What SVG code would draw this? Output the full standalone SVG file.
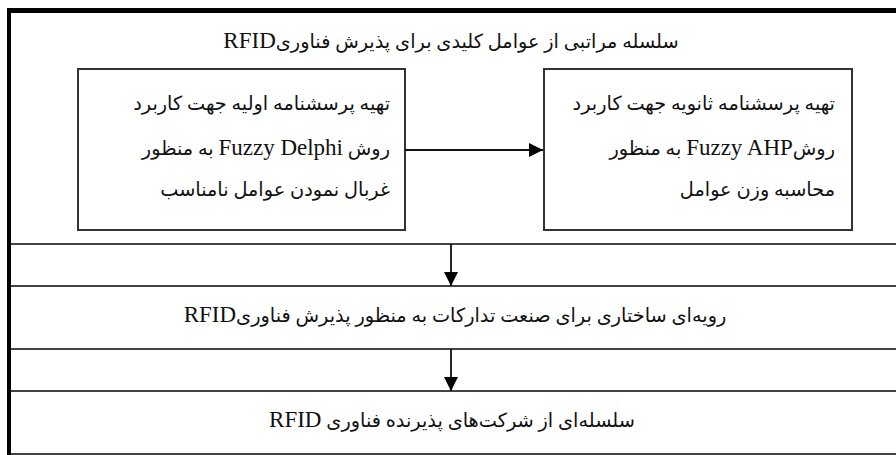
<svg xmlns="http://www.w3.org/2000/svg" width="896" height="455" viewBox="0 0 896 455">
<defs>
<marker id="ah" markerWidth="14" markerHeight="14" refX="14" refY="7" orient="auto" markerUnits="userSpaceOnUse">
<path d="M0,0 L14,7 L0,14 Z" fill="#000"/>
</marker>
</defs>
<style>
.t{font-family:"Liberation Serif","DejaVu Sans",serif;font-size:19.3px;fill:#111;direction:rtl;unicode-bidi:embed}
.l{font-size:23px}
.box{fill:none;stroke:#333;stroke-width:2}
.sep{stroke:#444;stroke-width:2}
.con{stroke:#111;stroke-width:1.8;fill:none}
</style>
<rect width="896" height="455" fill="#fff"/>
<g id="frame">
<line x1="7" y1="10.5" x2="896" y2="10.5" stroke="#000" stroke-width="5"/>
<line x1="9" y1="8" x2="9" y2="455" stroke="#000" stroke-width="4"/>
<line class="sep" x1="11" y1="244" x2="896" y2="244"/>
<line class="sep" x1="11" y1="286" x2="896" y2="286"/>
<line class="sep" x1="11" y1="349" x2="896" y2="349"/>
<line class="sep" x1="11" y1="391" x2="896" y2="391"/>
<line class="sep" x1="11" y1="454" x2="896" y2="454"/>
</g>
<g id="title">
<text class="t" x="451" y="48" text-anchor="middle">سلسله مراتبی از عوامل کلیدی برای پذیرش فناوری<tspan class="l">RFID</tspan></text>
</g>
<g id="box-delphi">
<rect class="box" x="78" y="69" width="327" height="161"/>
<text class="t" x="390" y="110" text-anchor="start">تهیه پرسشنامه اولیه جهت کاربرد</text>
<text class="t" x="390" y="155" text-anchor="start">روش <tspan class="l">Fuzzy Delphi</tspan> به منظور</text>
<text class="t" x="390" y="196" text-anchor="start">غربال نمودن عوامل نامناسب</text>
</g>
<g id="box-ahp">
<rect class="box" x="544" y="69" width="308" height="161"/>
<text class="t" x="835" y="110" text-anchor="start">تهیه پرسشنامه ثانویه جهت کاربرد</text>
<text class="t" x="835" y="155" text-anchor="start">روش<tspan class="l">Fuzzy AHP</tspan>  به منظور</text>
<text class="t" x="835" y="196" text-anchor="start">محاسبه وزن عوامل</text>
</g>
<g id="structure">
<text class="t" x="455" y="322" text-anchor="middle">رویه‌ای ساختاری برای صنعت تدارکات به منظور پذیرش فناوری<tspan class="l">RFID</tspan></text>
</g>
<g id="chain">
<text class="t" x="452" y="427" text-anchor="middle">سلسله‌ای از شرکت‌های پذیرنده فناوری <tspan class="l">RFID</tspan></text>
</g>
<g id="connectors">
<line class="con" x1="405" y1="150" x2="543" y2="150" marker-end="url(#ah)"/>
<line class="con" x1="451" y1="244" x2="451" y2="286" marker-end="url(#ah)"/>
<line class="con" x1="451" y1="349" x2="451" y2="391" marker-end="url(#ah)"/>
</g>
</svg>
